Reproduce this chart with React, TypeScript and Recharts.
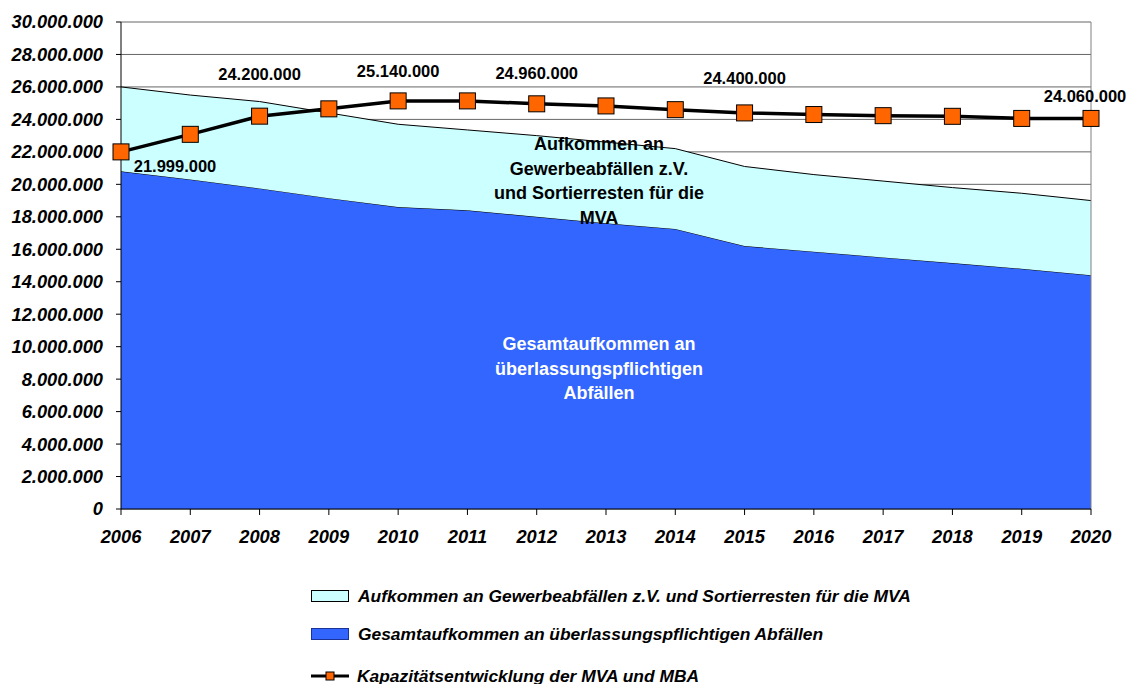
import { ComposedChart, Area, Line, XAxis, YAxis, CartesianGrid, ReferenceLine, LabelList } from "recharts";

const YEARS = ["2006", "2007", "2008", "2009", "2010", "2011", "2012", "2013", "2014", "2015", "2016", "2017", "2018", "2019", "2020"];

// Gesamtaufkommen an überlassungspflichtigen Abfällen (blue, bottom layer)
const GESAMT = [20800000, 20300000, 19750000, 19150000, 18600000, 18400000, 18000000, 17600000, 17250000, 16200000, 15850000, 15500000, 15150000, 14800000, 14400000];

// Aufkommen an Gewerbeabfällen z.V. und Sortierresten für die MVA (cyan, stacked on top)
const GEWERBE = [5200000, 5200000, 5350000, 5250000, 5100000, 4950000, 5000000, 5000000, 4950000, 4900000, 4750000, 4700000, 4650000, 4650000, 4600000];

// Kapazitätsentwicklung der MVA und MBA
const KAPAZITAET = [21999000, 23080000, 24200000, 24650000, 25140000, 25140000, 24960000, 24830000, 24600000, 24400000, 24300000, 24230000, 24190000, 24060000, 24060000];

const Y_TICKS = [0, 2000000, 4000000, 6000000, 8000000, 10000000, 12000000, 14000000, 16000000, 18000000, 20000000, 22000000, 24000000, 26000000, 28000000, 30000000];

// which points get a value label, and where it sits relative to the marker
const LABELS: Record<string, [number, number]> = {
  "2006": [54, 14],
  "2008": [0, -42],
  "2010": [0, -30],
  "2012": [0, -31],
  "2015": [0, -35],
  "2020": [-6, -22],
};

const data = YEARS.map((year, i) => ({
  year,
  gesamt: GESAMT[i],
  gewerbe: GEWERBE[i],
  kapazitaet: KAPAZITAET[i],
}));

const FONT = "'Liberation Sans', Arial, sans-serif";

const fmt = (v: number) => String(Math.round(v)).replace(/\B(?=(\d{3})+(?!\d))/g, ".");

const SquareDot = (props: any) => {
  const { cx, cy, index } = props;
  if (cx == null || cy == null) return <g key={index} />;
  return <rect key={index} x={cx - 8} y={cy - 8} width={16} height={16} fill="#FF6600" stroke="#000" strokeWidth={1} />;
};

const ValueLabel = (props: any) => {
  const { x, y, index, value } = props;
  const off = LABELS[YEARS[index]];
  if (!off) return null;
  return (
    <text x={x + off[0]} y={y + off[1]} textAnchor="middle" dominantBaseline="central" fontFamily={FONT} fontSize={16.5} fontWeight="bold" fill="#000">
      {fmt(value)}
    </text>
  );
};

const tickStyle = { fontFamily: FONT, fontSize: 18.3, fontWeight: "bold", fontStyle: "italic", fill: "#000" };

export default function App() {
  return (
    <div style={{ position: "absolute", left: 0, top: 0, width: 1129, height: 684, background: "#fff", fontFamily: FONT }}>
      <ComposedChart width={1129} height={684} data={data} margin={{ top: 22, right: 38, bottom: 135, left: 10 }}>
        <CartesianGrid vertical={false} stroke="#666" strokeWidth={1} />
        <XAxis
          dataKey="year"
          scale="point"
          tick={tickStyle}
          tickSize={6}
          tickMargin={15}
          height={40}
          stroke="#000"
          interval={0}
        />
        <YAxis
          domain={[0, 30000000]}
          ticks={Y_TICKS}
          tickFormatter={fmt}
          tick={tickStyle}
          tickSize={5}
          tickMargin={13}
          width={111}
          stroke="#000"
          interval={0}
        />
        <ReferenceLine x="2020" stroke="#808080" />
        <Area type="linear" dataKey="gesamt" stackId="a" fill="#3366FF" fillOpacity={1} stroke="#000" strokeWidth={1} isAnimationActive={false} />
        <Area type="linear" dataKey="gewerbe" stackId="a" fill="#CCFFFF" fillOpacity={1} stroke="#000" strokeWidth={1} isAnimationActive={false} />
        <Line type="linear" dataKey="kapazitaet" stroke="#000" strokeWidth={3.5} dot={SquareDot} activeDot={false} isAnimationActive={false}>
          <LabelList dataKey="kapazitaet" content={ValueLabel} />
        </Line>
      </ComposedChart>

      {/* text inside the areas */}
      <div style={{ position: "absolute", left: 449, width: 300, top: 132, textAlign: "center", fontSize: 18, fontWeight: "bold", lineHeight: "24.5px", color: "#000" }}>
        Aufkommen an<br />Gewerbeabfällen z.V.<br />und Sortierresten für die<br />MVA
      </div>
      <div style={{ position: "absolute", left: 449, width: 300, top: 332, textAlign: "center", fontSize: 18, fontWeight: "bold", lineHeight: "24.5px", color: "#fff" }}>
        Gesamtaufkommen an<br />überlassungspflichtigen<br />Abfällen
      </div>

      {/* legend */}
      <div style={{ position: "absolute", left: 311, top: 584, fontSize: 17.4, fontWeight: "bold", fontStyle: "italic", color: "#000" }}>
        <div style={{ display: "flex", alignItems: "center", height: 24 }}>
          <span style={{ display: "inline-block", width: 36, height: 10, background: "#CCFFFF", border: "1px solid #000", marginRight: 9 }} />
          Aufkommen an Gewerbeabfällen z.V. und Sortierresten für die MVA
        </div>
        <div style={{ display: "flex", alignItems: "center", height: 24, marginTop: 14 }}>
          <span style={{ display: "inline-block", width: 36, height: 10, background: "#3366FF", border: "1px solid #1a3399", marginRight: 9 }} />
          Gesamtaufkommen an überlassungspflichtigen Abfällen
        </div>
        <div style={{ display: "flex", alignItems: "center", height: 24, marginTop: 18 }}>
          <svg width={38} height={12} style={{ marginRight: 8 }}>
            <line x1={0} y1={6} x2={38} y2={6} stroke="#000" strokeWidth={3} />
            <rect x={15} y={2} width={8} height={8} fill="#FF6600" stroke="#000" strokeWidth={1} />
          </svg>
          Kapazitätsentwicklung der MVA und MBA
        </div>
      </div>
    </div>
  );
}
